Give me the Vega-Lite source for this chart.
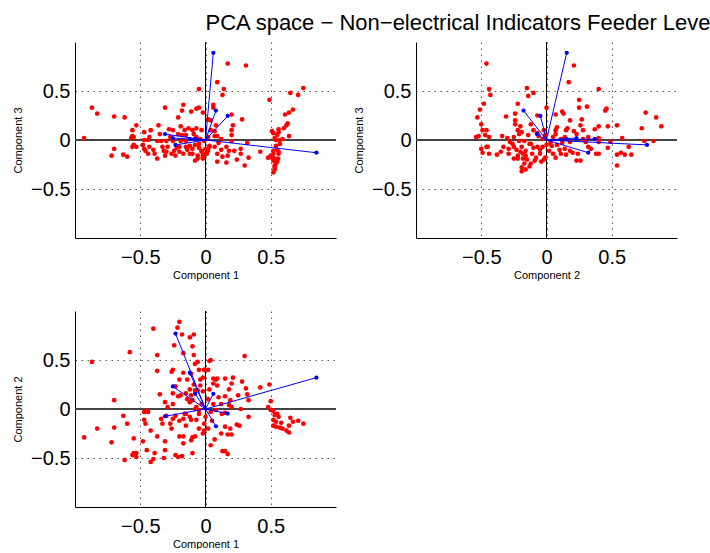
{
"$schema":"https://vega.github.io/schema/vega-lite/v6.json",
"background":"white",
"padding":{"left":12,"top":11,"right":0,"bottom":0},
"title":{"text":"PCA space − Non−electrical Indicators Feeder Level","anchor":"start","dx":193,"fontSize":22,"font":"Liberation Sans","fontWeight":"normal","color":"black","offset":7},
"config":{"font":"Liberation Sans","view":{"stroke":null},
 "axis":{"domainColor":"black","domainWidth":1,"ticks":false,"labelFontSize":20,"labelColor":"black","labelFont":"Liberation Sans","titleFont":"Liberation Sans","titleFontSize":11,"titleFontWeight":"normal","titleColor":"black","grid":true,"gridColor":"#555","gridDash":[1.5,4.5],"gridWidth":1,"format":".1~f"},
 "axisX":{"labelPadding":9,"titlePadding":2},
 "axisY":{"labelPadding":5,"titlePadding":7}
},
"datasets":{
"load":[{"c1":-0.23,"c2":0.77,"c3":-0.05},{"c1":-0.12,"c2":0.37,"c3":0.01},{"c1":-0.25,"c2":0.23,"c3":0.02},{"c1":-0.08,"c2":0.155,"c3":0.01},{"c1":0.06,"c2":0.155,"c3":0.89},{"c1":-0.31,"c2":-0.074,"c3":0.06},{"c1":0.17,"c2":-0.047,"c3":0.245},{"c1":0.08,"c2":-0.176,"c3":0.30},{"c1":0.85,"c2":0.32,"c3":-0.13}],
"p13":[
{"c1":-0.93,"c3":0.02},{"c1":-0.87,"c3":0.33},{"c1":-0.83,"c3":0.27},{"c1":-0.70,"c3":0.24},{"c1":-0.62,"c3":0.23},{"c1":-0.70,"c3":-0.09},{"c1":-0.72,"c3":-0.16},{"c1":-0.63,"c3":-0.15},{"c1":-0.60,"c3":-0.17},{"c1":-0.53,"c3":0.15},{"c1":-0.56,"c3":0.10},{"c1":-0.56,"c3":0.04},{"c1":-0.57,"c3":0.02},{"c1":-0.55,"c3":0.03},{"c1":-0.55,"c3":-0.05},{"c1":-0.56,"c3":-0.07},{"c1":-0.53,"c3":-0.07},{"c1":-0.47,"c3":0.08},{"c1":-0.47,"c3":0.00},{"c1":-0.43,"c3":0.03},{"c1":-0.42,"c3":0.10},{"c1":-0.47,"c3":-0.09},{"c1":-0.46,"c3":-0.11},{"c1":-0.44,"c3":-0.14},{"c1":-0.43,"c3":-0.07},{"c1":-0.40,"c3":-0.10},{"c1":-0.39,"c3":-0.14},{"c1":-0.37,"c3":-0.19},{"c1":-0.37,"c3":-0.01},{"c1":-0.36,"c3":0.15},{"c1":-0.31,"c3":0.33},{"c1":-0.34,"c3":-0.01},{"c1":-0.33,"c3":-0.07},{"c1":-0.32,"c3":-0.11},{"c1":-0.31,"c3":-0.16},{"c1":-0.30,"c3":-0.01},{"c1":-0.29,"c3":-0.07},{"c1":-0.28,"c3":0.11},{"c1":-0.26,"c3":-0.14},{"c1":-0.25,"c3":0.10},{"c1":-0.25,"c3":-0.01},{"c1":-0.24,"c3":-0.11},{"c1":-0.23,"c3":-0.16},{"c1":-0.21,"c3":0.23},{"c1":-0.21,"c3":0.06},{"c1":-0.20,"c3":-0.07},{"c1":-0.19,"c3":0.14},{"c1":-0.19,"c3":-0.01},{"c1":-0.18,"c3":0.30},{"c1":-0.17,"c3":0.36},{"c1":-0.17,"c3":-0.14},{"c1":-0.16,"c3":0.10},{"c1":-0.15,"c3":-0.01},{"c1":-0.15,"c3":-0.07},{"c1":-0.13,"c3":0.12},{"c1":-0.12,"c3":-0.14},{"c1":-0.11,"c3":0.29},{"c1":-0.10,"c3":0.10},{"c1":-0.10,"c3":-0.09},{"c1":-0.08,"c3":-0.21},{"c1":-0.07,"c3":0.32},{"c1":-0.07,"c3":0.12},{"c1":-0.07,"c3":0.03},{"c1":-0.06,"c3":-0.16},{"c1":-0.05,"c3":0.52},{"c1":-0.05,"c3":0.33},{"c1":-0.05,"c3":-0.04},{"c1":-0.03,"c3":0.10},{"c1":-0.03,"c3":-0.11},{"c1":-0.02,"c3":-0.19},{"c1":-0.02,"c3":0.28},{"c1":-0.01,"c3":-0.01},{"c1":0.01,"c3":-0.14},{"c1":0.02,"c3":0.21},{"c1":0.03,"c3":-0.07},
{"c1":0.17,"c3":0.78},{"c1":0.31,"c3":0.76},{"c1":0.09,"c3":0.59},{"c1":0.14,"c3":0.52},{"c1":0.13,"c3":0.46},{"c1":0.06,"c3":0.36},{"c1":0.06,"c3":0.33},{"c1":0.20,"c3":0.26},{"c1":0.28,"c3":0.21},{"c1":0.04,"c3":0.20},{"c1":0.08,"c3":0.15},{"c1":0.21,"c3":0.15},{"c1":0.20,"c3":0.10},{"c1":0.20,"c3":0.05},{"c1":0.07,"c3":0.09},{"c1":0.09,"c3":0.04},{"c1":0.12,"c3":0.01},{"c1":0.20,"c3":-0.01},{"c1":0.03,"c3":-0.06},{"c1":0.07,"c3":-0.07},{"c1":0.02,"c3":-0.11},{"c1":0.09,"c3":-0.14},{"c1":0.16,"c3":-0.07},{"c1":0.18,"c3":-0.11},{"c1":0.22,"c3":-0.11},{"c1":0.27,"c3":-0.14},{"c1":0.27,"c3":-0.09},{"c1":0.17,"c3":-0.16},{"c1":0.24,"c3":-0.20},{"c1":0.33,"c3":-0.18},{"c1":0.16,"c3":-0.23},{"c1":0.09,"c3":-0.22},{"c1":0.30,"c3":-0.26},{"c1":0.42,"c3":-0.12},{"c1":0.32,"c3":-0.03},{"c1":-0.02,"c3":-0.18},{"c1":0.00,"c3":-0.14},
{"c1":0.49,"c3":0.41},{"c1":0.65,"c3":0.48},{"c1":0.71,"c3":0.46},{"c1":0.75,"c3":0.53},{"c1":0.67,"c3":0.31},{"c1":0.64,"c3":0.28},{"c1":0.61,"c3":0.26},{"c1":0.63,"c3":0.17},{"c1":0.62,"c3":0.15},{"c1":0.60,"c3":0.12},{"c1":0.56,"c3":0.11},{"c1":0.56,"c3":0.08},{"c1":0.51,"c3":0.09},{"c1":0.52,"c3":0.07},{"c1":0.64,"c3":0.04},{"c1":0.53,"c3":0.02},{"c1":0.59,"c3":0.01},{"c1":0.54,"c3":0.00},{"c1":0.57,"c3":-0.04},{"c1":0.55,"c3":-0.10},{"c1":0.52,"c3":-0.11},{"c1":0.56,"c3":-0.14},{"c1":0.50,"c3":-0.16},{"c1":0.48,"c3":-0.18},{"c1":0.53,"c3":-0.19},{"c1":0.555,"c3":-0.19},{"c1":0.52,"c3":-0.21},{"c1":0.54,"c3":-0.24},{"c1":0.53,"c3":-0.28},{"c1":0.53,"c3":-0.30},{"c1":0.52,"c3":-0.33},{"c1":0.51,"c3":-0.18},{"c1":0.54,"c3":-0.06},{"c1":0.55,"c3":-0.22},{"c1":0.53,"c3":-0.26},{"c1":0.56,"c3":-0.12},{"c1":0.52,"c3":-0.14},{"c1":0.55,"c3":0.05},{"c1":0.57,"c3":0.0},
{"c1":-0.08,"c3":-0.05},{"c1":-0.05,"c3":-0.08},{"c1":-0.03,"c3":-0.12},{"c1":-0.10,"c3":-0.14},{"c1":-0.06,"c3":-0.19},{"c1":-0.02,"c3":-0.16},{"c1":0.0,"c3":-0.09},{"c1":-0.04,"c3":0.01},{"c1":-0.12,"c3":-0.06},{"c1":-0.14,"c3":-0.10},{"c1":-0.20,"c3":-0.12},{"c1":-0.22,"c3":-0.08},{"c1":-0.09,"c3":0.06},{"c1":-0.15,"c3":0.05},{"c1":0.02,"c3":0.03},{"c1":0.04,"c3":0.10},{"c1":0.07,"c3":0.04},{"c1":0.10,"c3":-0.03},{"c1":0.12,"c3":-0.10},{"c1":0.13,"c3":-0.17},{"c1":-0.18,"c3":0.05},{"c1":-0.27,"c3":0.03},{"c1":-0.30,"c3":-0.12},{"c1":-0.35,"c3":0.06},{"c1":-0.44,"c3":0.0},{"c1":-0.48,"c3":-0.05}
],
"p23":[
{"c2":-0.46,"c3":0.78},{"c2":-0.44,"c3":0.52},{"c2":-0.43,"c3":0.46},{"c2":-0.48,"c3":0.37},{"c2":-0.51,"c3":0.31},{"c2":-0.53,"c3":0.23},{"c2":-0.50,"c3":0.16},{"c2":-0.49,"c3":0.10},{"c2":-0.46,"c3":0.10},{"c2":-0.54,"c3":0.03},{"c2":-0.52,"c3":0.04},{"c2":-0.47,"c3":0.05},{"c2":-0.44,"c3":0.03},{"c2":-0.50,"c3":-0.09},{"c2":-0.49,"c3":-0.13},{"c2":-0.46,"c3":-0.07},{"c2":-0.45,"c3":-0.07},{"c2":-0.44,"c3":-0.14},{"c2":-0.38,"c3":-0.15},{"c2":-0.35,"c3":-0.12},{"c2":-0.34,"c3":0.04},{"c2":-0.31,"c3":0.24},{"c2":-0.30,"c3":0.02},{"c2":-0.33,"c3":-0.07},{"c2":-0.29,"c3":-0.09},{"c2":-0.29,"c3":-0.14},{"c2":-0.26,"c3":-0.04},{"c2":-0.25,"c3":0.03},{"c2":-0.24,"c3":0.20},{"c2":-0.24,"c3":0.27},{"c2":-0.24,"c3":0.16},{"c2":-0.22,"c3":0.10},{"c2":-0.23,"c3":-0.10},{"c2":-0.22,"c3":-0.16},{"c2":-0.22,"c3":0.37},{"c2":-0.21,"c3":-0.01},{"c2":-0.20,"c3":0.14},{"c2":-0.19,"c3":0.08},{"c2":-0.19,"c3":-0.07},{"c2":-0.18,"c3":-0.19},{"c2":-0.17,"c3":-0.24},{"c2":-0.19,"c3":-0.28},{"c2":-0.19,"c3":-0.32},{"c2":-0.17,"c3":-0.01},{"c2":-0.16,"c3":-0.11},{"c2":-0.15,"c3":0.53},{"c2":-0.14,"c3":0.45},{"c2":-0.14,"c3":0.05},{"c2":-0.12,"c3":0.16},{"c2":-0.12,"c3":-0.04},{"c2":-0.10,"c3":0.48},{"c2":-0.11,"c3":-0.14},{"c2":-0.10,"c3":0.10},{"c2":-0.09,"c3":-0.21},{"c2":-0.07,"c3":0.25},{"c2":-0.07,"c3":-0.07},{"c2":-0.06,"c3":0.04},{"c2":-0.05,"c3":-0.14},{"c2":-0.03,"c3":0.01},{"c2":-0.03,"c3":-0.07},{"c2":-0.02,"c3":0.10},{"c2":-0.01,"c3":-0.18},{"c2":-0.22,"c3":-0.19},{"c2":-0.13,"c3":-0.27},{"c2":-0.16,"c3":-0.16},{"c2":-0.25,"c3":-0.19},
{"c2":0.21,"c3":0.76},{"c2":0.17,"c3":0.59},{"c2":0.40,"c3":0.52},{"c2":0.25,"c3":0.41},{"c2":0.25,"c3":0.33},{"c2":0.31,"c3":0.34},{"c2":0.12,"c3":0.29},{"c2":0.13,"c3":0.27},{"c2":0.46,"c3":0.32},{"c2":0.45,"c3":0.30},{"c2":0.76,"c3":0.28},{"c2":0.84,"c3":0.23},{"c2":0.88,"c3":0.14},{"c2":0.73,"c3":0.12},{"c2":0.18,"c3":0.20},{"c2":0.07,"c3":0.26},{"c2":0.00,"c3":0.33},{"c2":0.27,"c3":0.21},{"c2":0.26,"c3":0.15},{"c2":0.28,"c3":0.10},{"c2":0.37,"c3":0.11},{"c2":0.47,"c3":0.14},{"c2":0.54,"c3":0.15},{"c2":0.58,"c3":0.02},{"c2":0.49,"c3":-0.02},{"c2":0.47,"c3":-0.08},{"c2":0.63,"c3":-0.07},{"c2":0.75,"c3":-0.01},{"c2":0.82,"c3":-0.01},{"c2":0.54,"c3":-0.15},{"c2":0.57,"c3":-0.13},{"c2":0.60,"c3":-0.15},{"c2":0.65,"c3":-0.15},{"c2":0.54,"c3":-0.26},{"c2":0.40,"c3":0.02},{"c2":0.37,"c3":0.01},{"c2":0.32,"c3":0.03},{"c2":0.32,"c3":-0.07},{"c2":0.34,"c3":-0.09},{"c2":0.38,"c3":-0.14},{"c2":0.40,"c3":-0.14},{"c2":0.26,"c3":-0.21},{"c2":0.23,"c3":-0.21},{"c2":0.24,"c3":-0.14},{"c2":0.20,"c3":-0.13},{"c2":0.18,"c3":-0.11},{"c2":0.14,"c3":-0.09},{"c2":0.15,"c3":-0.15},{"c2":0.11,"c3":-0.14},{"c2":0.07,"c3":-0.18},{"c2":0.05,"c3":-0.14},{"c2":0.02,"c3":-0.11},{"c2":0.04,"c3":-0.06},{"c2":0.08,"c3":-0.05},{"c2":0.07,"c3":0.10},{"c2":0.08,"c3":0.13},{"c2":0.07,"c3":0.06},{"c2":0.15,"c3":0.10},{"c2":0.16,"c3":0.12},{"c2":0.21,"c3":0.09},{"c2":0.23,"c3":0.06},{"c2":0.14,"c3":0.03},{"c2":0.11,"c3":0.01},{"c2":-0.02,"c3":-0.20},{"c2":0.00,"c3":-0.05},{"c2":0.28,"c3":0.01},{"c2":0.30,"c3":-0.02},{"c2":0.40,"c3":0.14},{"c2":0.40,"c3":-0.02},
{"c2":-0.15,"c3":-0.20},{"c2":-0.10,"c3":-0.08},{"c2":-0.05,"c3":-0.10},{"c2":-0.13,"c3":-0.04},{"c2":-0.20,"c3":-0.12},{"c2":-0.18,"c3":-0.14},{"c2":-0.08,"c3":-0.18},{"c2":-0.04,"c3":-0.22},{"c2":-0.12,"c3":-0.24},{"c2":-0.16,"c3":-0.30},{"c2":0.03,"c3":-0.03},{"c2":-0.01,"c3":0.05},{"c2":0.05,"c3":0.03},{"c2":0.10,"c3":-0.10},{"c2":0.12,"c3":-0.03},{"c2":-0.25,"c3":-0.07},{"c2":-0.28,"c3":-0.02},{"c2":-0.21,"c3":0.06},{"c2":-0.07,"c3":0.07},{"c2":0.18,"c3":-0.02}
],
"p12":[
{"c1":-0.40,"c2":0.82},{"c1":-0.20,"c2":0.89},{"c1":-0.215,"c2":0.83},{"c1":-0.12,"c2":0.73},{"c1":-0.09,"c2":0.76},{"c1":-0.18,"c2":0.76},{"c1":-0.24,"c2":0.65},{"c1":-0.10,"c2":0.64},{"c1":-0.17,"c2":0.57},{"c1":-0.09,"c2":0.55},{"c1":-0.58,"c2":0.58},{"c1":-0.87,"c2":0.48},{"c1":-0.37,"c2":0.55},{"c1":-0.25,"c2":0.40},{"c1":-0.26,"c2":0.38},{"c1":-0.37,"c2":0.39},{"c1":-0.20,"c2":0.30},{"c1":-0.17,"c2":0.37},{"c1":-0.23,"c2":0.23},{"c1":-0.25,"c2":0.16},{"c1":-0.35,"c2":0.15},{"c1":-0.31,"c2":0.07},{"c1":-0.29,"c2":0.02},{"c1":-0.25,"c2":0.05},{"c1":-0.21,"c2":0.13},{"c1":-0.19,"c2":0.14},{"c1":-0.15,"c2":0.16},{"c1":-0.14,"c2":0.30},{"c1":-0.11,"c2":0.36},{"c1":-0.08,"c2":0.46},{"c1":-0.06,"c2":0.48},{"c1":-0.05,"c2":0.40},{"c1":-0.01,"c2":0.40},{"c1":-0.02,"c2":0.32},{"c1":-0.04,"c2":0.24},{"c1":-0.06,"c2":0.19},{"c1":-0.10,"c2":0.09},{"c1":-0.07,"c2":0.02},{"c1":-0.46,"c2":-0.02},{"c1":-0.44,"c2":-0.03},{"c1":-0.47,"c2":-0.03},{"c1":-0.70,"c2":0.09},{"c1":-0.63,"c2":-0.07},{"c1":-0.60,"c2":-0.15},{"c1":-0.70,"c2":-0.19},{"c1":-0.83,"c2":-0.20},{"c1":-0.72,"c2":-0.34},{"c1":-0.93,"c2":-0.29},{"c1":-0.55,"c2":-0.30},{"c1":-0.55,"c2":-0.45},{"c1":-0.56,"c2":-0.47},{"c1":-0.53,"c2":-0.45},{"c1":-0.53,"c2":-0.49},{"c1":-0.62,"c2":-0.52},{"c1":-0.48,"c2":-0.33},{"c1":-0.45,"c2":-0.42},{"c1":-0.42,"c2":-0.22},{"c1":-0.47,"c2":-0.11},{"c1":-0.46,"c2":-0.15},{"c1":-0.40,"c2":-0.51},{"c1":-0.42,"c2":-0.54},{"c1":-0.39,"c2":-0.45},{"c1":-0.37,"c2":-0.28},{"c1":-0.34,"c2":-0.10},{"c1":-0.33,"c2":-0.15},{"c1":-0.31,"c2":-0.42},{"c1":-0.32,"c2":-0.50},{"c1":-0.31,"c2":-0.33},{"c1":-0.27,"c2":-0.15},{"c1":-0.26,"c2":-0.20},{"c1":-0.25,"c2":-0.10},{"c1":-0.23,"c2":-0.47},{"c1":-0.21,"c2":-0.49},{"c1":-0.18,"c2":-0.48},{"c1":-0.17,"c2":-0.35},{"c1":-0.20,"c2":-0.28},{"c1":-0.17,"c2":-0.28},{"c1":-0.17,"c2":-0.10},{"c1":-0.15,"c2":-0.17},{"c1":-0.11,"c2":-0.11},{"c1":-0.11,"c2":-0.32},{"c1":-0.10,"c2":-0.29},{"c1":-0.08,"c2":-0.28},{"c1":-0.10,"c2":-0.45},{"c1":-0.07,"c2":-0.11},{"c1":-0.05,"c2":-0.20},{"c1":-0.02,"c2":-0.25},{"c1":-0.01,"c2":-0.15},{"c1":-0.12,"c2":-0.08},{"c1":-0.16,"c2":-0.05},{"c1":-0.23,"c2":-0.07},{"c1":-0.30,"c2":-0.07},{"c1":-0.08,"c2":0.19},{"c1":-0.11,"c2":0.14},{"c1":-0.12,"c2":0.07},{"c1":-0.05,"c2":-0.01},
{"c1":0.30,"c2":0.54},{"c1":0.04,"c2":0.50},{"c1":0.03,"c2":0.49},{"c1":-0.01,"c2":0.40},{"c1":0.02,"c2":0.40},{"c1":0.06,"c2":0.31},{"c1":0.09,"c2":0.31},{"c1":0.15,"c2":0.31},{"c1":0.21,"c2":0.32},{"c1":0.28,"c2":0.28},{"c1":0.20,"c2":0.26},{"c1":0.06,"c2":0.26},{"c1":0.09,"c2":0.24},{"c1":0.49,"c2":0.25},{"c1":0.42,"c2":0.22},{"c1":0.31,"c2":0.21},{"c1":0.18,"c2":0.20},{"c1":0.25,"c2":0.14},{"c1":0.32,"c2":0.15},{"c1":0.33,"c2":0.09},{"c1":0.50,"c2":0.08},{"c1":0.15,"c2":0.13},{"c1":0.19,"c2":0.09},{"c1":0.18,"c2":0.04},{"c1":0.20,"c2":0.02},{"c1":0.27,"c2":0.00},{"c1":0.08,"c2":-0.01},{"c1":0.125,"c2":-0.05},{"c1":0.15,"c2":-0.04},{"c1":0.33,"c2":-0.08},{"c1":0.48,"c2":0.02},{"c1":0.50,"c2":-0.01},{"c1":0.52,"c2":-0.02},{"c1":0.53,"c2":-0.06},{"c1":0.55,"c2":-0.05},{"c1":0.56,"c2":-0.08},{"c1":0.52,"c2":-0.11},{"c1":0.54,"c2":-0.13},{"c1":0.52,"c2":-0.17},{"c1":0.54,"c2":-0.18},{"c1":0.57,"c2":-0.19},{"c1":0.59,"c2":-0.20},{"c1":0.62,"c2":-0.22},{"c1":0.64,"c2":-0.24},{"c1":0.65,"c2":-0.09},{"c1":0.67,"c2":-0.13},{"c1":0.71,"c2":-0.12},{"c1":0.75,"c2":-0.15},{"c1":0.64,"c2":-0.17},{"c1":0.58,"c2":-0.14},{"c1":0.24,"c2":-0.16},{"c1":0.26,"c2":-0.17},{"c1":0.15,"c2":-0.18},{"c1":0.19,"c2":-0.20},{"c1":0.17,"c2":-0.26},{"c1":0.20,"c2":-0.26},{"c1":0.12,"c2":-0.25},{"c1":0.07,"c2":-0.31},{"c1":0.04,"c2":-0.37},{"c1":0.13,"c2":-0.43},{"c1":0.15,"c2":-0.43},{"c1":0.17,"c2":-0.46},{"c1":-0.01,"c2":-0.22},
{"c1":-0.03,"c2":0.05},{"c1":0.02,"c2":0.10},{"c1":0.04,"c2":-0.03},{"c1":-0.05,"c2":-0.05},{"c1":0.0,"c2":-0.08},{"c1":-0.08,"c2":0.0},{"c1":0.06,"c2":0.05},{"c1":-0.02,"c2":0.18},{"c1":0.03,"c2":0.20},{"c1":-0.12,"c2":0.20},{"c1":-0.09,"c2":0.25},{"c1":-0.04,"c2":0.30},{"c1":-0.14,"c2":0.10},{"c1":0.10,"c2":0.12},{"c1":0.12,"c2":0.05},{"c1":-0.15,"c2":-0.05},{"c1":-0.20,"c2":-0.12},{"c1":0.05,"c2":-0.12},{"c1":0.08,"c2":0.30},{"c1":0.02,"c2":-0.20}
]
},
"vconcat":[
{"hconcat":[
 {"width":261,"height":196,"layer":[
  {"data":{"values":[{}]},"mark":{"type":"rule","color":"#444","strokeWidth":2},"encoding":{"y":{"datum":0,"type":"quantitative","scale":{"domain":[-1,1],"nice":false,"zero":false},"axis":{"title":"Component 3","values":[-0.5,0,0.5]}}}},
  {"data":{"values":[{}]},"mark":{"type":"rule","color":"black","strokeWidth":1},"encoding":{"x":{"datum":0,"type":"quantitative","scale":{"domain":[-1,1],"nice":false,"zero":false},"axis":{"title":"Component 1","values":[-0.5,0,0.5]}}}},
  {"data":{"name":"p13"},"mark":{"type":"circle","color":"#ff0000","size":22,"opacity":1},"encoding":{"x":{"field":"c1","type":"quantitative","scale":{"domain":[-1,1],"nice":false,"zero":false},"axis":{"title":"Component 1","values":[-0.5,0,0.5]}},"y":{"field":"c3","type":"quantitative","scale":{"domain":[-1,1],"nice":false,"zero":false},"axis":{"title":"Component 3","values":[-0.5,0,0.5]}}}},
  {"data":{"name":"load"},"mark":{"type":"rule","color":"#0000ff","strokeWidth":1},"encoding":{"x":{"field":"c1","type":"quantitative"},"y":{"field":"c3","type":"quantitative"},"x2":{"datum":0},"y2":{"datum":0}}},
  {"data":{"name":"load"},"mark":{"type":"circle","color":"#0000ff","size":18,"opacity":1},"encoding":{"x":{"field":"c1","type":"quantitative"},"y":{"field":"c3","type":"quantitative"}}}
 ]},
 {"width":261,"height":196,"layer":[
  {"data":{"values":[{}]},"mark":{"type":"rule","color":"#444","strokeWidth":2},"encoding":{"y":{"datum":0,"type":"quantitative","scale":{"domain":[-1,1],"nice":false,"zero":false},"axis":{"title":"Component 3","values":[-0.5,0,0.5]}}}},
  {"data":{"values":[{}]},"mark":{"type":"rule","color":"black","strokeWidth":1},"encoding":{"x":{"datum":0,"type":"quantitative","scale":{"domain":[-1,1],"nice":false,"zero":false},"axis":{"title":"Component 2","values":[-0.5,0,0.5]}}}},
  {"data":{"name":"p23"},"mark":{"type":"circle","color":"#ff0000","size":22,"opacity":1},"encoding":{"x":{"field":"c2","type":"quantitative","scale":{"domain":[-1,1],"nice":false,"zero":false},"axis":{"title":"Component 2","values":[-0.5,0,0.5]}},"y":{"field":"c3","type":"quantitative","scale":{"domain":[-1,1],"nice":false,"zero":false},"axis":{"title":"Component 3","values":[-0.5,0,0.5]}}}},
  {"data":{"name":"load"},"mark":{"type":"rule","color":"#0000ff","strokeWidth":1},"encoding":{"x":{"field":"c2","type":"quantitative"},"y":{"field":"c3","type":"quantitative"},"x2":{"datum":0},"y2":{"datum":0}}},
  {"data":{"name":"load"},"mark":{"type":"circle","color":"#0000ff","size":18,"opacity":1},"encoding":{"x":{"field":"c2","type":"quantitative"},"y":{"field":"c3","type":"quantitative"}}}
 ]}
],"spacing":16},
{"width":261,"height":196,"layer":[
  {"data":{"values":[{}]},"mark":{"type":"rule","color":"#444","strokeWidth":2},"encoding":{"y":{"datum":0,"type":"quantitative","scale":{"domain":[-1,1],"nice":false,"zero":false},"axis":{"title":"Component 2","values":[-0.5,0,0.5]}}}},
  {"data":{"values":[{}]},"mark":{"type":"rule","color":"black","strokeWidth":1},"encoding":{"x":{"datum":0,"type":"quantitative","scale":{"domain":[-1,1],"nice":false,"zero":false},"axis":{"title":"Component 1","values":[-0.5,0,0.5]}}}},
  {"data":{"name":"p12"},"mark":{"type":"circle","color":"#ff0000","size":22,"opacity":1},"encoding":{"x":{"field":"c1","type":"quantitative","scale":{"domain":[-1,1],"nice":false,"zero":false},"axis":{"title":"Component 1","values":[-0.5,0,0.5]}},"y":{"field":"c2","type":"quantitative","scale":{"domain":[-1,1],"nice":false,"zero":false},"axis":{"title":"Component 2","values":[-0.5,0,0.5]}}}},
  {"data":{"name":"load"},"mark":{"type":"rule","color":"#0000ff","strokeWidth":1},"encoding":{"x":{"field":"c1","type":"quantitative"},"y":{"field":"c2","type":"quantitative"},"x2":{"datum":0},"y2":{"datum":0}}},
  {"data":{"name":"load"},"mark":{"type":"circle","color":"#0000ff","size":18,"opacity":1},"encoding":{"x":{"field":"c1","type":"quantitative"},"y":{"field":"c2","type":"quantitative"}}}
]}
],
"spacing":30
}
